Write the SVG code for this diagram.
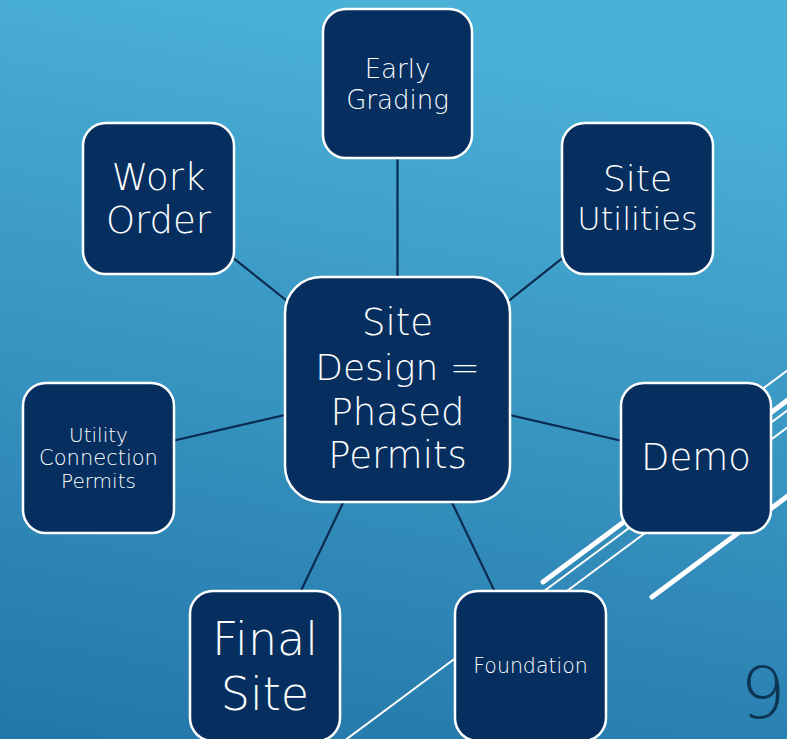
<svg xmlns="http://www.w3.org/2000/svg" width="787" height="739" viewBox="0 0 787 739">
  <defs>
    <linearGradient id="bg" x1="0.3" y1="0" x2="0.1" y2="1">
      <stop offset="0" stop-color="#4ab0d6"/>
      <stop offset="1" stop-color="#2477aa"/>
    </linearGradient>
    <style>
      .box { fill: #062f60; stroke: #ffffff; stroke-width: 2.5; }
      .conn { stroke: #0b2a50; stroke-width: 2.2; fill: none; }
      .deco { stroke: #ffffff; fill: none; }
      .thick { stroke-width: 5; stroke-linecap: round; }
      .thin { stroke-width: 2; }
      text { font-family: "DejaVu Sans", "Liberation Sans", sans-serif; font-weight: 300; fill: #ffffff; text-anchor: middle; }
      .num { font-family: "DejaVu Sans", "Liberation Sans", sans-serif; font-weight: 200; fill: #0b3552; font-size: 72px; }
    </style>
  </defs>

  <rect x="0" y="0" width="787" height="739" fill="url(#bg)"/>

  <g id="decoration">
    <line class="deco thick" x1="543" y1="582" x2="800" y2="391"/>
    <line class="deco thin" x1="520" y1="609" x2="800" y2="401"/>
    <line class="deco thin" x1="540" y1="611" x2="800" y2="418"/>
    <line class="deco thin" x1="680" y1="450" x2="800" y2="361"/>
    <line class="deco thick" x1="652" y1="597" x2="800" y2="487"/>
    <line class="deco thin" x1="340" y1="744" x2="500" y2="625"/>
  </g>

  <g id="connectors">
    <line class="conn" x1="397.5" y1="389" x2="397.5" y2="83.5"/>
    <line class="conn" x1="397.5" y1="389" x2="158.5" y2="198.5"/>
    <line class="conn" x1="397.5" y1="389" x2="637.5" y2="198.5"/>
    <line class="conn" x1="397.5" y1="389" x2="98.5" y2="458"/>
    <line class="conn" x1="397.5" y1="389" x2="696" y2="458"/>
    <line class="conn" x1="397.5" y1="389" x2="265" y2="666"/>
    <line class="conn" x1="397.5" y1="389" x2="530.5" y2="666"/>
  </g>

  <g id="early-grading">
    <rect class="box" x="323" y="9" width="149" height="149" rx="23"/>
    <text x="397.5" y="78" font-size="26">Early</text>
    <text x="397.5" y="109" font-size="26">Grading</text>
  </g>

  <g id="work-order">
    <rect class="box" x="83" y="123" width="151" height="151" rx="23"/>
    <text x="158.5" y="190" font-size="37">Work</text>
    <text x="158.5" y="233" font-size="37">Order</text>
  </g>

  <g id="site-utilities">
    <rect class="box" x="562" y="123" width="151" height="151" rx="23"/>
    <text x="637.5" y="191" font-size="36">Site</text>
    <text x="637.5" y="230" font-size="32">Utilities</text>
  </g>

  <g id="center">
    <rect class="box" x="285" y="277" width="225" height="225" rx="36"/>
    <text x="397.5" y="335" font-size="37">Site</text>
    <text x="397.5" y="380" font-size="36">Design =</text>
    <text x="397.5" y="425" font-size="37">Phased</text>
    <text x="397.5" y="468" font-size="37">Permits</text>
  </g>

  <g id="utility-connection">
    <rect class="box" x="23" y="383" width="151" height="150" rx="23"/>
    <text x="98.5" y="442" font-size="20">Utility</text>
    <text x="98.5" y="465" font-size="21">Connection</text>
    <text x="98.5" y="488" font-size="20">Permits</text>
  </g>

  <g id="demo">
    <rect class="box" x="621" y="383" width="150" height="150" rx="23"/>
    <text x="696" y="470" font-size="37">Demo</text>
  </g>

  <g id="final-site">
    <rect class="box" x="190" y="591" width="150" height="150" rx="23"/>
    <text x="265" y="655" font-size="46">Final</text>
    <text x="265" y="710" font-size="46">Site</text>
  </g>

  <g id="foundation">
    <rect class="box" x="455" y="591" width="151" height="150" rx="23"/>
    <text x="530.5" y="673" font-size="20.5">Foundation</text>
  </g>

  <text class="num" x="763" y="718">9</text>
</svg>
